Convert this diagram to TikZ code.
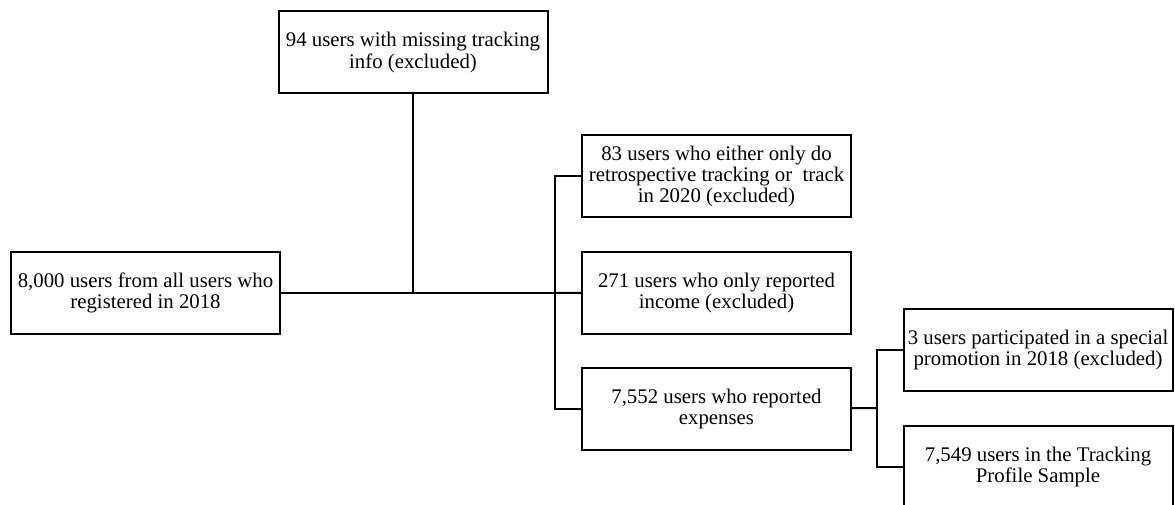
\documentclass[tikz,border=0pt]{standalone}
\usepackage{fontspec}
\setmainfont{Liberation Serif}
\usetikzlibrary{positioning}

\begin{document}
\begin{tikzpicture}[x=1pt,y=-1pt]

    % Styles
    \tikzstyle{stage} = [rectangle, draw=black, line width=2pt, minimum width=269pt, minimum height=82pt, align=center, inner xsep=0pt, font=\fontsize{20.8}{21}\selectfont]
    \tikzstyle{link} = [line width=2pt]

    \useasboundingbox (0,0) rectangle (1175,505);

    % Noeuds
    \node (all) [stage] at (145.5,293) {8,000 users from all users who\\registered in 2018};
    \node (missing) [stage] at (413,52.5) {94 users with missing tracking\\info (excluded)};
    \node (retro) [stage] at (716.5,176.5) {83 users who either only do\\retrospective tracking or\ \ track\\in 2020 (excluded)};
    \node (income) [stage, below=32pt of retro] {271 users who only reported\\income (excluded)};
    \node (expenses) [stage, below=32pt of income] {7,552 users who reported\\expenses};
    \node (promo) [stage] at (1038,350) {3 users participated in a special\\promotion in 2018 (excluded)};
    \node (sample) [stage, below=33pt of promo] {7,549 users in the Tracking\\Profile Sample};

    \coordinate (split) at (555,293);
    \coordinate (split2) at (877,408);

    % Liens
    \draw [link] (all) -- (split);
    \draw [link] (missing) -- (missing |- all);
    \draw [link] (retro.west) -| (split) |- (expenses.west);
    \draw [link] (income) -- (split);
    \draw [link] (expenses) -- (split2);
    \draw [link] (promo.west) -| (split2) |- (sample.west);

\end{tikzpicture}
\end{document}
